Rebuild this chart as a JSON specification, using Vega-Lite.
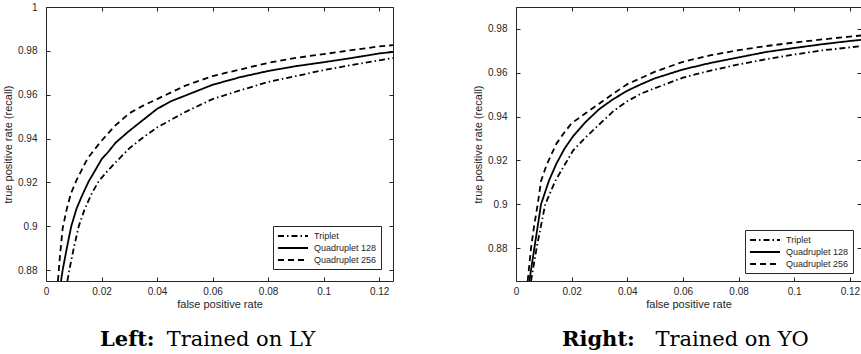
{
  "$schema": "https://vega.github.io/schema/vega-lite/v6.json",
  "autosize": {"type": "pad"},
  "padding": {"left": 2, "top": 1, "right": 0, "bottom": 0},
  "background": "white",
  "spacing": 123,
  "bounds": "flush",
  "config": {
    "view": {"stroke": "#262626", "strokeWidth": 1},
    "font": "Liberation Sans",
    "axis": {
      "grid": false,
      "domain": false,
      "labelFont": "Liberation Sans",
      "labelFontSize": 10,
      "labelColor": "#262626",
      "titleFont": "Liberation Sans",
      "titleFontSize": 11,
      "titleFontWeight": "normal",
      "titleColor": "#262626",
      "tickColor": "#262626",
      "tickSize": -4,
      "labelFlush": false,
      "labelOverlap": false
    },
    "axisX": {"labelPadding": 9, "titlePadding": 2},
    "axisY": {"labelPadding": 13, "titlePadding": 4},
    "legend": {
      "orient": "bottom-right",
      "strokeColor": "#262626",
      "fillColor": "white",
      "padding": 4,
      "symbolType": "M-1,0H5",
      "symbolSize": 100,
      "symbolStrokeWidth": 2,
      "symbolStrokeColor": "black",
      "labelFont": "Liberation Sans",
      "labelFontSize": 9,
      "labelColor": "#262626",
      "labelOffset": 25,
      "rowPadding": 1
    },
    "title": {
      "orient": "bottom",
      "anchor": "start",
      "frame": "group",
      "font": "DejaVu Serif",
      "fontSize": 21,
      "fontWeight": "bold",
      "color": "black",
      "subtitleFont": "DejaVu Serif",
      "subtitleFontSize": 21,
      "subtitleFontWeight": "normal",
      "subtitleColor": "black",
      "subtitlePadding": -21,
      "offset": 20
    }
  },
  "resolve": {"legend": {"strokeDash": "independent"}},
  "datasets": {
    "left": [
      {"s": "Triplet", "fpr": 0.0077, "tpr": 0.875},
      {"s": "Triplet", "fpr": 0.0084, "tpr": 0.88},
      {"s": "Triplet", "fpr": 0.01, "tpr": 0.89},
      {"s": "Triplet", "fpr": 0.0118, "tpr": 0.9},
      {"s": "Triplet", "fpr": 0.014, "tpr": 0.908},
      {"s": "Triplet", "fpr": 0.0165, "tpr": 0.915},
      {"s": "Triplet", "fpr": 0.019, "tpr": 0.9205},
      {"s": "Triplet", "fpr": 0.022, "tpr": 0.925},
      {"s": "Triplet", "fpr": 0.025, "tpr": 0.929},
      {"s": "Triplet", "fpr": 0.03, "tpr": 0.9355},
      {"s": "Triplet", "fpr": 0.035, "tpr": 0.9405},
      {"s": "Triplet", "fpr": 0.04, "tpr": 0.945},
      {"s": "Triplet", "fpr": 0.045, "tpr": 0.9485},
      {"s": "Triplet", "fpr": 0.05, "tpr": 0.952},
      {"s": "Triplet", "fpr": 0.06, "tpr": 0.958},
      {"s": "Triplet", "fpr": 0.07, "tpr": 0.962},
      {"s": "Triplet", "fpr": 0.08, "tpr": 0.9658},
      {"s": "Triplet", "fpr": 0.09, "tpr": 0.9685},
      {"s": "Triplet", "fpr": 0.1, "tpr": 0.9712},
      {"s": "Triplet", "fpr": 0.11, "tpr": 0.9735},
      {"s": "Triplet", "fpr": 0.12, "tpr": 0.9757},
      {"s": "Triplet", "fpr": 0.125, "tpr": 0.9767},
      {"s": "Quadruplet 128", "fpr": 0.0054, "tpr": 0.875},
      {"s": "Quadruplet 128", "fpr": 0.006, "tpr": 0.88},
      {"s": "Quadruplet 128", "fpr": 0.0075, "tpr": 0.89},
      {"s": "Quadruplet 128", "fpr": 0.0091, "tpr": 0.9},
      {"s": "Quadruplet 128", "fpr": 0.011, "tpr": 0.908},
      {"s": "Quadruplet 128", "fpr": 0.013, "tpr": 0.914},
      {"s": "Quadruplet 128", "fpr": 0.0154, "tpr": 0.9205},
      {"s": "Quadruplet 128", "fpr": 0.0175, "tpr": 0.925},
      {"s": "Quadruplet 128", "fpr": 0.02, "tpr": 0.9305},
      {"s": "Quadruplet 128", "fpr": 0.0225, "tpr": 0.934},
      {"s": "Quadruplet 128", "fpr": 0.025, "tpr": 0.938},
      {"s": "Quadruplet 128", "fpr": 0.03, "tpr": 0.9435},
      {"s": "Quadruplet 128", "fpr": 0.035, "tpr": 0.9485},
      {"s": "Quadruplet 128", "fpr": 0.04, "tpr": 0.9535},
      {"s": "Quadruplet 128", "fpr": 0.045, "tpr": 0.957},
      {"s": "Quadruplet 128", "fpr": 0.05, "tpr": 0.9595},
      {"s": "Quadruplet 128", "fpr": 0.06, "tpr": 0.9645},
      {"s": "Quadruplet 128", "fpr": 0.07, "tpr": 0.968},
      {"s": "Quadruplet 128", "fpr": 0.08, "tpr": 0.9708},
      {"s": "Quadruplet 128", "fpr": 0.09, "tpr": 0.973},
      {"s": "Quadruplet 128", "fpr": 0.1, "tpr": 0.9748},
      {"s": "Quadruplet 128", "fpr": 0.11, "tpr": 0.9767},
      {"s": "Quadruplet 128", "fpr": 0.12, "tpr": 0.9788},
      {"s": "Quadruplet 128", "fpr": 0.125, "tpr": 0.9795},
      {"s": "Quadruplet 256", "fpr": 0.0043, "tpr": 0.875},
      {"s": "Quadruplet 256", "fpr": 0.005, "tpr": 0.886},
      {"s": "Quadruplet 256", "fpr": 0.006, "tpr": 0.899},
      {"s": "Quadruplet 256", "fpr": 0.0075, "tpr": 0.908},
      {"s": "Quadruplet 256", "fpr": 0.009, "tpr": 0.915},
      {"s": "Quadruplet 256", "fpr": 0.011, "tpr": 0.921},
      {"s": "Quadruplet 256", "fpr": 0.013, "tpr": 0.926},
      {"s": "Quadruplet 256", "fpr": 0.015, "tpr": 0.931},
      {"s": "Quadruplet 256", "fpr": 0.0175, "tpr": 0.935},
      {"s": "Quadruplet 256", "fpr": 0.02, "tpr": 0.939},
      {"s": "Quadruplet 256", "fpr": 0.025, "tpr": 0.946},
      {"s": "Quadruplet 256", "fpr": 0.03, "tpr": 0.9515},
      {"s": "Quadruplet 256", "fpr": 0.035, "tpr": 0.955},
      {"s": "Quadruplet 256", "fpr": 0.04, "tpr": 0.958},
      {"s": "Quadruplet 256", "fpr": 0.05, "tpr": 0.964},
      {"s": "Quadruplet 256", "fpr": 0.06, "tpr": 0.9685},
      {"s": "Quadruplet 256", "fpr": 0.07, "tpr": 0.9715},
      {"s": "Quadruplet 256", "fpr": 0.08, "tpr": 0.9745},
      {"s": "Quadruplet 256", "fpr": 0.09, "tpr": 0.9768},
      {"s": "Quadruplet 256", "fpr": 0.1, "tpr": 0.9785},
      {"s": "Quadruplet 256", "fpr": 0.11, "tpr": 0.9803},
      {"s": "Quadruplet 256", "fpr": 0.12, "tpr": 0.982},
      {"s": "Quadruplet 256", "fpr": 0.125, "tpr": 0.9826}
    ],
    "right": [
      {"s": "Triplet", "fpr": 0.0054, "tpr": 0.865},
      {"s": "Triplet", "fpr": 0.0074, "tpr": 0.88},
      {"s": "Triplet", "fpr": 0.0105, "tpr": 0.9},
      {"s": "Triplet", "fpr": 0.0141, "tpr": 0.9106},
      {"s": "Triplet", "fpr": 0.0175, "tpr": 0.918},
      {"s": "Triplet", "fpr": 0.0205, "tpr": 0.9245},
      {"s": "Triplet", "fpr": 0.025, "tpr": 0.9305},
      {"s": "Triplet", "fpr": 0.03, "tpr": 0.9365},
      {"s": "Triplet", "fpr": 0.035, "tpr": 0.9425},
      {"s": "Triplet", "fpr": 0.04, "tpr": 0.947},
      {"s": "Triplet", "fpr": 0.045, "tpr": 0.9505},
      {"s": "Triplet", "fpr": 0.05, "tpr": 0.953},
      {"s": "Triplet", "fpr": 0.06, "tpr": 0.9578},
      {"s": "Triplet", "fpr": 0.07, "tpr": 0.961},
      {"s": "Triplet", "fpr": 0.08, "tpr": 0.9638},
      {"s": "Triplet", "fpr": 0.09, "tpr": 0.9662},
      {"s": "Triplet", "fpr": 0.1, "tpr": 0.9683},
      {"s": "Triplet", "fpr": 0.11, "tpr": 0.9702},
      {"s": "Triplet", "fpr": 0.12, "tpr": 0.9716},
      {"s": "Triplet", "fpr": 0.124, "tpr": 0.9722},
      {"s": "Quadruplet 128", "fpr": 0.0048, "tpr": 0.865},
      {"s": "Quadruplet 128", "fpr": 0.0066, "tpr": 0.88},
      {"s": "Quadruplet 128", "fpr": 0.009, "tpr": 0.9},
      {"s": "Quadruplet 128", "fpr": 0.0118, "tpr": 0.9106},
      {"s": "Quadruplet 128", "fpr": 0.0145, "tpr": 0.9185},
      {"s": "Quadruplet 128", "fpr": 0.0175, "tpr": 0.9255},
      {"s": "Quadruplet 128", "fpr": 0.0205, "tpr": 0.931},
      {"s": "Quadruplet 128", "fpr": 0.025, "tpr": 0.9375},
      {"s": "Quadruplet 128", "fpr": 0.03, "tpr": 0.9435},
      {"s": "Quadruplet 128", "fpr": 0.035, "tpr": 0.948},
      {"s": "Quadruplet 128", "fpr": 0.04, "tpr": 0.9518},
      {"s": "Quadruplet 128", "fpr": 0.045, "tpr": 0.9548},
      {"s": "Quadruplet 128", "fpr": 0.05, "tpr": 0.9575},
      {"s": "Quadruplet 128", "fpr": 0.06, "tpr": 0.9615},
      {"s": "Quadruplet 128", "fpr": 0.07, "tpr": 0.9645},
      {"s": "Quadruplet 128", "fpr": 0.08, "tpr": 0.967},
      {"s": "Quadruplet 128", "fpr": 0.09, "tpr": 0.9695},
      {"s": "Quadruplet 128", "fpr": 0.1, "tpr": 0.9713},
      {"s": "Quadruplet 128", "fpr": 0.11, "tpr": 0.973},
      {"s": "Quadruplet 128", "fpr": 0.12, "tpr": 0.9745},
      {"s": "Quadruplet 128", "fpr": 0.124, "tpr": 0.975},
      {"s": "Quadruplet 256", "fpr": 0.0042, "tpr": 0.865},
      {"s": "Quadruplet 256", "fpr": 0.0054, "tpr": 0.88},
      {"s": "Quadruplet 256", "fpr": 0.0065, "tpr": 0.89},
      {"s": "Quadruplet 256", "fpr": 0.0078, "tpr": 0.9},
      {"s": "Quadruplet 256", "fpr": 0.009, "tpr": 0.9106},
      {"s": "Quadruplet 256", "fpr": 0.011, "tpr": 0.918},
      {"s": "Quadruplet 256", "fpr": 0.0145, "tpr": 0.9276},
      {"s": "Quadruplet 256", "fpr": 0.0175, "tpr": 0.933},
      {"s": "Quadruplet 256", "fpr": 0.02, "tpr": 0.937},
      {"s": "Quadruplet 256", "fpr": 0.025, "tpr": 0.9415},
      {"s": "Quadruplet 256", "fpr": 0.03, "tpr": 0.946},
      {"s": "Quadruplet 256", "fpr": 0.035, "tpr": 0.9505},
      {"s": "Quadruplet 256", "fpr": 0.04, "tpr": 0.9548},
      {"s": "Quadruplet 256", "fpr": 0.05, "tpr": 0.9605},
      {"s": "Quadruplet 256", "fpr": 0.06, "tpr": 0.965},
      {"s": "Quadruplet 256", "fpr": 0.07, "tpr": 0.968},
      {"s": "Quadruplet 256", "fpr": 0.08, "tpr": 0.9703},
      {"s": "Quadruplet 256", "fpr": 0.09, "tpr": 0.9722},
      {"s": "Quadruplet 256", "fpr": 0.1, "tpr": 0.9738},
      {"s": "Quadruplet 256", "fpr": 0.11, "tpr": 0.9752},
      {"s": "Quadruplet 256", "fpr": 0.12, "tpr": 0.9765},
      {"s": "Quadruplet 256", "fpr": 0.124, "tpr": 0.977}
    ]
  },
  "hconcat": [
    {
      "width": 347,
      "height": 274,
      "data": {"name": "left"},
      "title": {"text": "Left:", "subtitle": "\u200b\u00a0\u00a0\u00a0\u00a0\u00a0\u00a0\u00a0\u00a0\u00a0\u00a0Trained on LY", "dx": 54},
      "layer": [
        {
          "mark": {"type": "line", "clip": true, "strokeWidth": 1.8, "color": "black"},
          "encoding": {
            "x": {"field": "fpr", "type": "quantitative", "title": "false positive rate",
                  "scale": {"domain": [0, 0.125], "nice": false, "zero": false},
                  "axis": {"values": [0, 0.02, 0.04, 0.06, 0.08, 0.1, 0.12], "format": "~g"}},
            "y": {"field": "tpr", "type": "quantitative", "title": "true positive rate (recall)",
                  "scale": {"domain": [0.875, 1], "nice": false, "zero": false},
                  "axis": {"values": [0.88, 0.9, 0.92, 0.94, 0.96, 0.98, 1], "format": "~g"}},
            "strokeDash": {"field": "s", "type": "nominal",
                  "scale": {"domain": ["Triplet", "Quadruplet 128", "Quadruplet 256"], "range": [[6, 3, 1.5, 3], [1, 0], [6, 4]]},
                  "legend": {"offset": 12, "title": null}},
            "order": {"field": "fpr", "type": "quantitative"}
          }
        },
        {
          "mark": {"type": "line", "opacity": 0},
          "encoding": {
            "x": {"field": "fpr", "type": "quantitative", "axis": {"values": [0, 0.02, 0.04, 0.06, 0.08, 0.1, 0.12], "labels": false, "title": null, "orient": "top"}},
            "y": {"field": "tpr", "type": "quantitative", "axis": {"values": [0.88, 0.9, 0.92, 0.94, 0.96, 0.98, 1], "labels": false, "title": null, "orient": "right"}}
          }
        }
      ],
      "resolve": {"axis": {"x": "independent", "y": "independent"}}
    },
    {
      "width": 345,
      "height": 274,
      "data": {"name": "right"},
      "title": {"text": "Right:", "subtitle": "\u200b\u00a0\u00a0\u00a0\u00a0\u00a0\u00a0\u00a0\u00a0\u00a0\u00a0\u00a0\u00a0\u00a0\u00a0Trained on YO", "dx": 46},
      "layer": [
        {
          "mark": {"type": "line", "clip": true, "strokeWidth": 1.8, "color": "black"},
          "encoding": {
            "x": {"field": "fpr", "type": "quantitative", "title": "false positive rate",
                  "scale": {"domain": [0, 0.124], "nice": false, "zero": false},
                  "axis": {"values": [0, 0.02, 0.04, 0.06, 0.08, 0.1, 0.12], "format": "~g"}},
            "y": {"field": "tpr", "type": "quantitative", "title": "true positive rate (recall)",
                  "scale": {"domain": [0.865, 0.99], "nice": false, "zero": false},
                  "axis": {"values": [0.88, 0.9, 0.92, 0.94, 0.96, 0.98], "format": "~g"}},
            "strokeDash": {"field": "s", "type": "nominal",
                  "scale": {"domain": ["Triplet", "Quadruplet 128", "Quadruplet 256"], "range": [[6, 3, 1.5, 3], [1, 0], [6, 4]]},
                  "legend": {"offset": 8, "title": null}},
            "order": {"field": "fpr", "type": "quantitative"}
          }
        },
        {
          "mark": {"type": "line", "opacity": 0},
          "encoding": {
            "x": {"field": "fpr", "type": "quantitative", "axis": {"values": [0, 0.02, 0.04, 0.06, 0.08, 0.1, 0.12], "labels": false, "title": null, "orient": "top"}},
            "y": {"field": "tpr", "type": "quantitative", "axis": {"values": [0.88, 0.9, 0.92, 0.94, 0.96, 0.98], "labels": false, "title": null, "orient": "right"}}
          }
        }
      ],
      "resolve": {"axis": {"x": "independent", "y": "independent"}}
    }
  ]
}
